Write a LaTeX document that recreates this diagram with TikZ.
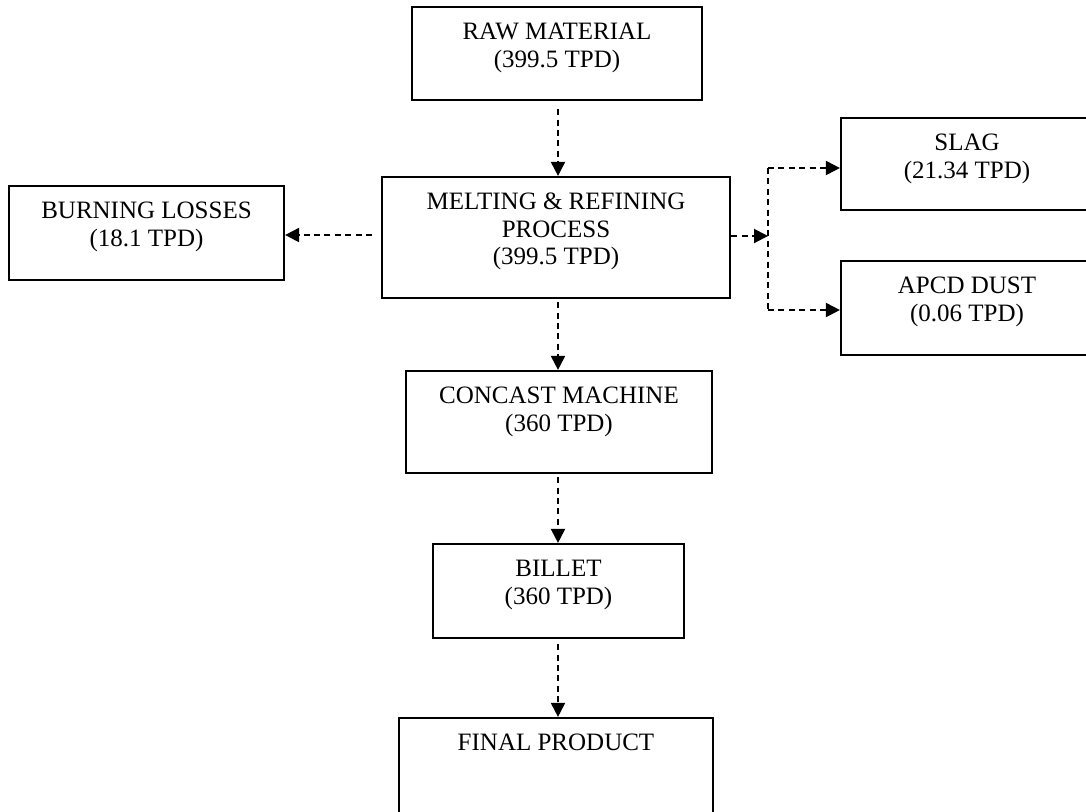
\documentclass[tikz,border=0pt]{standalone}
\usepackage{fontspec}
\setmainfont{Liberation Serif}
\usetikzlibrary{arrows.meta}
\begin{document}
\begin{tikzpicture}[x=0.5pt,y=-0.5pt,
  box/.style={draw, line width=1.1pt, inner sep=0pt, fill=none},
  txt/.style={anchor=north, inner sep=0pt, align=center, yshift=-8.5pt,
    font=\fontsize{12.5}{13.75}\selectfont},
  flow/.style={draw, line width=1pt, dash pattern=on 3pt off 2.2pt,
    -{Triangle[length=7pt,width=7pt]}, shorten <=1.5pt},
  jline/.style={draw, line width=1pt, dash pattern=on 3pt off 2.2pt}]
\useasboundingbox (0,0) rectangle (1086,811);
\clip (0,0) rectangle (1086,811);
\fill[white] (0,0) rectangle (1086,811);

\node[box, minimum width=145pt, minimum height=46.5pt] (raw) at (557,53.5) {};
\node[txt] (rawt) at (raw.north) {RAW MATERIAL\\(399.5 TPD)};

\node[box, minimum width=174pt, minimum height=60.5pt] (melt) at (556,237.5) {};
\node[txt] (meltt) at (melt.north) {MELTING \& REFINING\\PROCESS\\(399.5 TPD)};

\node[box, minimum width=137.5pt, minimum height=47pt] (burn) at (146.5,233) {};
\node[txt] (burnt) at (burn.north) {BURNING LOSSES\\(18.1 TPD)};

\node[box, minimum width=126pt, minimum height=46pt] (slag) at (967,164) {};
\node[txt] (slagt) at (slag.north) {SLAG\\(21.34 TPD)};

\node[box, minimum width=126pt, minimum height=47pt] (apcd) at (967,308) {};
\node[txt] (apcdt) at (apcd.north) {APCD DUST\\(0.06 TPD)};

\node[box, minimum width=153pt, minimum height=51pt] (conc) at (559,422) {};
\node[txt] (conct) at (conc.north) {CONCAST MACHINE\\(360 TPD)};

\node[box, minimum width=125.5pt, minimum height=47pt] (bill) at (558.5,591) {};
\node[txt] (billt) at (bill.north) {BILLET\\(360 TPD)};

\node[box, minimum width=157pt, minimum height=50pt] (fin) at (556,768) {};
\node[txt] (fint) at (fin.north) {FINAL PRODUCT};

\coordinate (axis) at (558,0);
\coordinate (hl) at (0,235);
\coordinate (hr) at (0,236);
\coordinate (j) at (768,236);
\coordinate (ja) at (768,168);
\coordinate (jb) at (768,310);

\draw[flow, shorten <=4pt] (raw.south -| axis) -- (melt.north -| axis);
\draw[flow] (melt.south -| axis) -- (conc.north -| axis);
\draw[flow] (conc.south -| axis) -- (bill.north -| axis);
\draw[flow, shorten <=2.5pt] (bill.south -| axis) -- (fin.north -| axis);
\draw[flow, shorten <=4.5pt] (melt.west |- hl) -- (burn.east |- hl);
\draw[flow, shorten <=0pt] (melt.east |- hr) -- (j);
\draw[jline] (ja) -- (jb);
\draw[flow, shorten <=0pt] (ja) -- (ja -| slag.west);
\draw[flow, shorten <=0pt] (jb) -- (jb -| apcd.west);
\end{tikzpicture}
\end{document}
